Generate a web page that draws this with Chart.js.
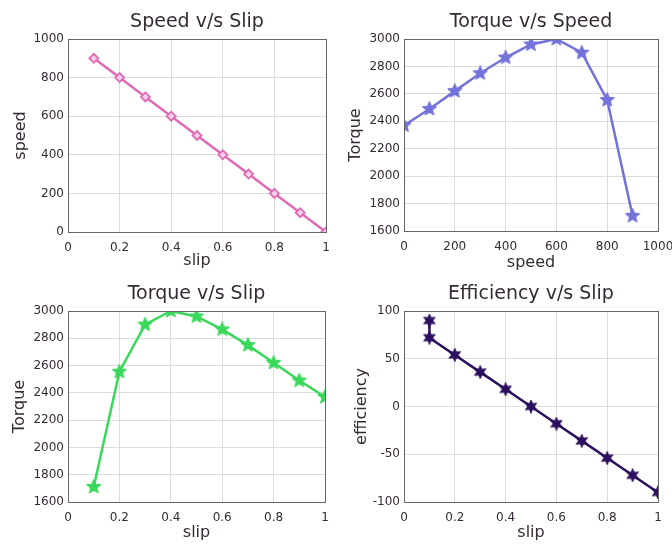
<!DOCTYPE html>
<html><head><meta charset="utf-8">
<script src="https://cdn.jsdelivr.net/npm/chart.js@4.4.0/dist/chart.umd.min.js"></script>
<style>
html,body{margin:0;padding:0;background:#fff;}
#wrap{position:relative;width:672px;height:545px;}
.c{position:absolute;}
</style></head>
<body><div id="wrap">
<canvas id="c1" class="c" style="left:0;top:0" width="336" height="272"></canvas>
<canvas id="c2" class="c" style="left:336px;top:0" width="336" height="272"></canvas>
<canvas id="c3" class="c" style="left:0;top:272px" width="336" height="273"></canvas>
<canvas id="c4" class="c" style="left:336px;top:272px" width="336" height="273"></canvas>
</div>
<script>
// ---- data ----
const slip = [0.1, 0.2, 0.3, 0.4, 0.5, 0.6, 0.7, 0.8, 0.9, 1.0];
const speed = [900, 800, 700, 600, 500, 400, 300, 200, 100, 0];
const speedAxis = [0, 100, 200, 300, 400, 500, 600, 700, 800, 900];
const torqueVsSpeed = [2370, 2490, 2620, 2750, 2865, 2960, 3000, 2900, 2555, 1710];
const torqueVsSlip = [1710, 2555, 2900, 3000, 2960, 2865, 2750, 2620, 2490, 2370];
const effSlip = [0.1, 0.1, 0.2, 0.3, 0.4, 0.5, 0.6, 0.7, 0.8, 0.9, 1.0];
const efficiency = [90, 72, 54, 36, 18, 0, -18, -36, -54, -72, -90];

const slipTicks = [0, 0.2, 0.4, 0.6, 0.8, 1];
const speedTicks = [0, 200, 400, 600, 800, 1000];
const speedValTicks = [0, 200, 400, 600, 800, 1000];
const torqueTicks = [1600, 1800, 2000, 2200, 2400, 2600, 2800, 3000];
const effTicks = [-100, -50, 0, 50, 100];

const FONT = "'DejaVu Sans', sans-serif";
const TXT = '#352b35';

function starCanvas(color, n, size, inner) {
  const cv = document.createElement('canvas');
  cv.width = size; cv.height = size;
  const g = cv.getContext('2d');
  const c = size / 2, R = size / 2 - 0.5, r = R * inner;
  g.beginPath();
  for (let i = 0; i < 2 * n; i++) {
    const a = -Math.PI / 2 + i * Math.PI / n;
    const rr = i % 2 === 0 ? R : r;
    const x = c + rr * Math.cos(a), y = c + rr * Math.sin(a);
    if (i === 0) g.moveTo(x, y); else g.lineTo(x, y);
  }
  g.closePath();
  g.fillStyle = color; g.fill();
  g.strokeStyle = color; g.lineWidth = 1; g.stroke();
  return cv;
}

const boxPlugin = {
  id: 'box',
  afterDatasetsDraw(chart) {
    const a = chart.chartArea, ctx = chart.ctx;
    ctx.save();
    ctx.strokeStyle = '#666';
    ctx.lineWidth = 1;
    ctx.strokeRect(Math.round(a.left) + 0.5, Math.round(a.top) + 0.5,
      Math.round(a.right - a.left), Math.round(a.bottom - a.top));
    ctx.restore();
  }
};

const axTitlePlugin = {
  id: 'axTitle',
  afterDraw(chart, args, opts) {
    const a = chart.chartArea, ctx = chart.ctx;
    ctx.save();
    ctx.fillStyle = TXT;
    ctx.font = '19px ' + FONT;
    ctx.textAlign = 'center';
    ctx.textBaseline = 'middle';
    ctx.fillText(opts.text, (a.left + a.right) / 2, 22.5);
    ctx.restore();
  }
};

function makeChart(id, cfg) {
  const xs = cfg.x, ys = cfg.y;
  const pts = xs.map((v, i) => ({x: v, y: ys[i]}));
  new Chart(document.getElementById(id), {
    type: 'line',
    data: { datasets: [{
      data: pts,
      borderColor: cfg.color,
      borderWidth: 2.5,
      pointStyle: cfg.point,
      pointRadius: cfg.pr || 4,
      pointBorderColor: cfg.color,
      pointBackgroundColor: cfg.pbg || cfg.color,
      pointBorderWidth: 1.8,
      tension: 0
    }]},
    plugins: [boxPlugin, axTitlePlugin],
    options: {
      responsive: false,
      animation: false,
      events: [],
      layout: { padding: { left: 0, right: cfg.right, top: 39, bottom: 0 } },
      plugins: {
        legend: { display: false },
        tooltip: { enabled: false },
        title: { display: false },
        axTitle: { text: cfg.title }
      },
      scales: {
        x: {
          type: 'linear', min: cfg.xt[0], max: cfg.xt[cfg.xt.length - 1],
          afterBuildTicks(s) { s.ticks = cfg.xt.map(v => ({value: v})); },
          afterFit(s) { s.height = cfg.xh; s.paddingLeft = 0; s.paddingRight = 0; },
          grid: { color: '#dcdcdc', drawTicks: false },
          border: { display: false },
          ticks: { color: TXT, padding: 9, maxRotation: 0, autoSkip: false,
            font: { family: FONT, size: 12 },
            callback: v => String(v) },
          title: { display: true, text: cfg.xlabel, color: TXT,
            font: { family: FONT, size: 16 }, padding: { top: 0, bottom: cfg.xtb } }
        },
        y: {
          type: 'linear', min: cfg.yt[0], max: cfg.yt[cfg.yt.length - 1],
          afterBuildTicks(s) { s.ticks = cfg.yt.map(v => ({value: v})); },
          afterFit(s) { s.width = 68; s.paddingTop = 0; s.paddingBottom = 0; },
          grid: { color: '#dcdcdc', drawTicks: false },
          border: { display: false },
          ticks: { color: TXT, padding: 4, autoSkip: false,
            font: { family: FONT, size: 12 },
            callback: v => String(v) },
          title: { display: true, text: cfg.ylabel, color: TXT,
            font: { family: FONT, size: 16 }, padding: { top: cfg.ytp, bottom: 0 } }
        }
      }
    }
  });
}

const pink = '#e06ab4', blue = '#7272da', green = '#3ad85a', purple = '#2c0f5e';

makeChart('c1', { x: slip, y: speed, color: pink, point: 'rectRot', pr: 4.5, pbg: '#f6d0ea',
  title: 'Speed v/s Slip', xlabel: 'slip', ylabel: 'speed',
  xt: slipTicks, yt: [0, 200, 400, 600, 800, 1000], right: 10, xh: 40, xtb: 2, ytp: 11 });

makeChart('c2', { x: speedAxis, y: torqueVsSpeed, color: blue, point: starCanvas(blue, 5, 16, 0.45),
  title: 'Torque v/s Speed', xlabel: 'speed', ylabel: 'Torque',
  xt: speedValTicks, yt: torqueTicks, right: 14, xh: 41, xtb: 0, ytp: 10 });

makeChart('c3', { x: slip, y: torqueVsSlip, color: green, point: starCanvas(green, 5, 16, 0.45),
  title: 'Torque v/s Slip', xlabel: 'slip', ylabel: 'Torque',
  xt: slipTicks, yt: torqueTicks, right: 11, xh: 43, xtb: 3, ytp: 10 });

makeChart('c4', { x: effSlip, y: efficiency, color: purple, point: starCanvas(purple, 6, 14, 0.5),
  title: 'Efficiency v/s Slip', xlabel: 'slip', ylabel: 'efficiency',
  xt: slipTicks, yt: effTicks, right: 14, xh: 43, xtb: 3, ytp: 16 });
</script>
</body></html>
